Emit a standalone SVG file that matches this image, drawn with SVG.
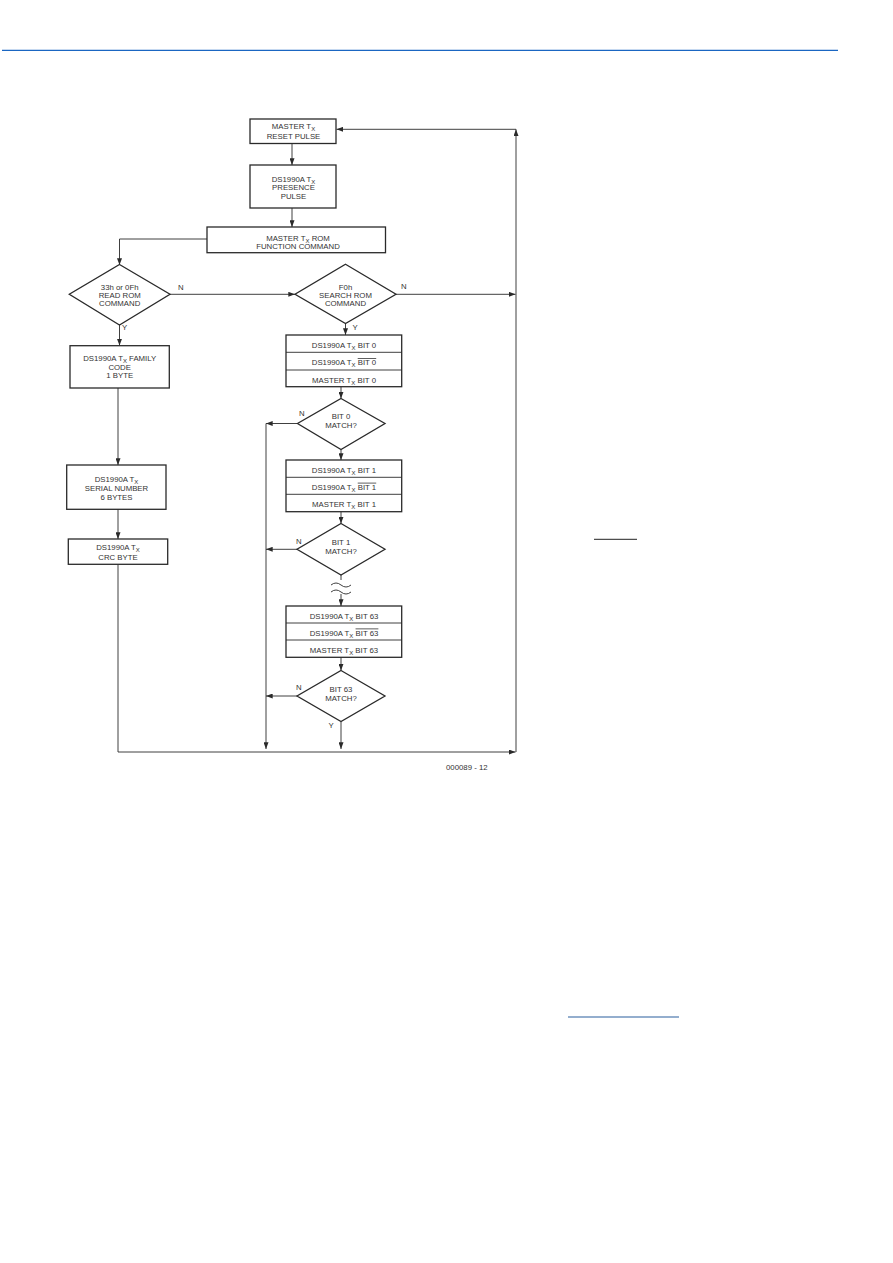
<svg xmlns="http://www.w3.org/2000/svg" width="893" height="1263" viewBox="0 0 893 1263">
<style>
text{font-family:"Liberation Sans",Arial,sans-serif;font-size:7.8px;fill:#333;text-anchor:middle}
.sub{font-size:6px}
.box{fill:#fff;stroke:#2a2a2a;stroke-width:1.3}
.ln{fill:none;stroke:#2a2a2a;stroke-width:0.9}
.lbl{text-anchor:start}
</style>
<defs>
<marker id="arr" viewBox="0 0 8 6" refX="8" refY="3" markerWidth="7" markerHeight="5" markerUnits="userSpaceOnUse" orient="auto">
<path d="M0,0 L8,3 L0,6 z" fill="#2a2a2a"/>
</marker>
</defs>
<rect width="893" height="1263" fill="#fff"/>
<line x1="2" y1="50.3" x2="838" y2="50.3" stroke="#1a66c2" stroke-width="1.3"/>
<line x1="594" y1="539.3" x2="637" y2="539.3" stroke="#222" stroke-width="1"/>
<line x1="568" y1="1017" x2="679" y2="1017" stroke="#2b5f9e" stroke-width="1.2"/>

<g id="connectors">
<path class="ln" d="M292,143 V165" marker-end="url(#arr)"/>
<path class="ln" d="M292,208 V227" marker-end="url(#arr)"/>
<path class="ln" d="M207,239 H119.5 V265" marker-end="url(#arr)"/>
<path class="ln" d="M170,294.3 H295" marker-end="url(#arr)"/>
<path class="ln" d="M119.5,325 V345.5" marker-end="url(#arr)"/>
<path class="ln" d="M118,388 V465" marker-end="url(#arr)"/>
<path class="ln" d="M118,509 V539" marker-end="url(#arr)"/>
<path class="ln" d="M118,564.5 V752 H515.5" marker-end="url(#arr)" stroke="#555"/>
<path class="ln" d="M396,294.3 H515.5" marker-end="url(#arr)"/>
<path class="ln" d="M516,752 V129.3" marker-end="url(#arr)"/>
<path class="ln" d="M516,129.3 H336.5" marker-end="url(#arr)"/>
<path class="ln" d="M345.5,323.5 V335" marker-end="url(#arr)"/>
<path class="ln" d="M341,387 V398.5" marker-end="url(#arr)"/>
<path class="ln" d="M297.5,423.5 H266" marker-end="url(#arr)"/>
<path class="ln" d="M266,423.5 V749" marker-end="url(#arr)"/>
<path class="ln" d="M341,449.5 V460" marker-end="url(#arr)"/>
<path class="ln" d="M341,512 V523.5" marker-end="url(#arr)"/>
<path class="ln" d="M297,549.3 H266" marker-end="url(#arr)"/>
<path class="ln" d="M341,575 V580"/>
<path class="ln" d="M331,585 q5,-4 10,0 t10,0"/>
<path class="ln" d="M331,592 q5,-4 10,0 t10,0"/>
<path class="ln" d="M341,594 V606" marker-end="url(#arr)"/>
<path class="ln" d="M341,657 V670.5" marker-end="url(#arr)"/>
<path class="ln" d="M297,696 H266" marker-end="url(#arr)"/>
<path class="ln" d="M341,721.5 V749" marker-end="url(#arr)"/>
<text class="lbl" x="178" y="289.5">N</text>
<text class="lbl" x="122" y="329.5">Y</text>
<text class="lbl" x="401" y="289">N</text>
<text class="lbl" x="352.5" y="329.5">Y</text>
<text class="lbl" x="299" y="416">N</text>
<text class="lbl" x="296" y="544">N</text>
<text class="lbl" x="296" y="689.5">N</text>
<text class="lbl" x="328.5" y="728">Y</text>
</g>

<g id="master-reset">
<rect class="box" x="250" y="119" width="86" height="24.5"/>
<text x="293.5" y="129.3">MASTER T<tspan class="sub" dy="2">X</tspan></text>
<text x="293.5" y="138.8">RESET PULSE</text>
</g>

<g id="presence">
<rect class="box" x="250" y="165" width="86" height="43"/>
<text x="293.5" y="181.7">DS1990A T<tspan class="sub" dy="2">X</tspan></text>
<text x="293.5" y="190.2">PRESENCE</text>
<text x="293.5" y="198.5">PULSE</text>
</g>

<g id="rom-function">
<rect class="box" x="207" y="227" width="178.5" height="25.7"/>
<text x="298" y="240.5">MASTER T<tspan class="sub" dy="2">X</tspan><tspan dy="-2"> ROM</tspan></text>
<text x="298" y="248.8">FUNCTION COMMAND</text>
</g>

<g id="read-rom">
<polygon class="box" points="119.5,264.5 170,294.3 119.5,325 69.3,294.3"/>
<text x="119.7" y="290">33h or 0Fh</text>
<text x="119.7" y="298">READ ROM</text>
<text x="119.7" y="306">COMMAND</text>
</g>

<g id="family-code">
<rect class="box" x="70" y="345.7" width="99.3" height="42.3"/>
<text x="119.7" y="361">DS1990A T<tspan class="sub" dy="2">X</tspan><tspan dy="-2"> FAMILY</tspan></text>
<text x="119.7" y="369.5">CODE</text>
<text x="119.7" y="378">1 BYTE</text>
</g>

<g id="serial-number">
<rect class="box" x="66.7" y="465" width="99.3" height="44.3"/>
<text x="116.5" y="481.7">DS1990A T<tspan class="sub" dy="2">X</tspan></text>
<text x="116.5" y="490.7">SERIAL NUMBER</text>
<text x="116.5" y="500">6 BYTES</text>
</g>

<g id="crc-byte">
<rect class="box" x="68.3" y="539" width="99.4" height="25.3"/>
<text x="118" y="550">DS1990A T<tspan class="sub" dy="2">X</tspan></text>
<text x="118" y="559.5">CRC BYTE</text>
</g>

<g id="search-rom">
<polygon class="box" points="345.5,264.3 396,294.3 345.5,323.5 295,294.3"/>
<text x="345.5" y="290">F0h</text>
<text x="345.5" y="298">SEARCH ROM</text>
<text x="345.5" y="306">COMMAND</text>
</g>

<g id="bit0-stack">
<rect class="box" x="286" y="335" width="115.7" height="51.7"/>
<line class="ln" x1="286" y1="352.3" x2="401.7" y2="352.3" stroke-width="1.2"/>
<line class="ln" x1="286" y1="370" x2="401.7" y2="370" stroke-width="1.2"/>
<text x="344" y="347.5">DS1990A T<tspan class="sub" dy="2">X</tspan><tspan dy="-2"> BIT 0</tspan></text>
<text x="344" y="365">DS1990A T<tspan class="sub" dy="2">X</tspan><tspan dy="-2"> </tspan><tspan text-decoration="overline">BIT 0</tspan></text>
<text x="344" y="382.5">MASTER T<tspan class="sub" dy="2">X</tspan><tspan dy="-2"> BIT 0</tspan></text>
</g>

<g id="bit0-match">
<polygon class="box" points="341,398.5 385,423.5 341,449.5 297.5,423.5"/>
<text x="341" y="418.5">BIT 0</text>
<text x="341" y="427.5">MATCH?</text>
</g>

<g id="bit1-stack">
<rect class="box" x="286" y="460" width="115.7" height="51.7"/>
<line class="ln" x1="286" y1="477.3" x2="401.7" y2="477.3" stroke-width="1.2"/>
<line class="ln" x1="286" y1="494.3" x2="401.7" y2="494.3" stroke-width="1.2"/>
<text x="344" y="472.5">DS1990A T<tspan class="sub" dy="2">X</tspan><tspan dy="-2"> BIT 1</tspan></text>
<text x="344" y="489.7">DS1990A T<tspan class="sub" dy="2">X</tspan><tspan dy="-2"> </tspan><tspan text-decoration="overline">BIT 1</tspan></text>
<text x="344" y="507">MASTER T<tspan class="sub" dy="2">X</tspan><tspan dy="-2"> BIT 1</tspan></text>
</g>

<g id="bit1-match">
<polygon class="box" points="341,523.5 385,549.3 341,575 297,549.3"/>
<text x="341" y="544.5">BIT 1</text>
<text x="341" y="553.5">MATCH?</text>
</g>

<g id="bit63-stack">
<rect class="box" x="286" y="606" width="115.7" height="51.3"/>
<line class="ln" x1="286" y1="623" x2="401.7" y2="623" stroke-width="1.2"/>
<line class="ln" x1="286" y1="640" x2="401.7" y2="640" stroke-width="1.2"/>
<text x="344" y="618.5">DS1990A T<tspan class="sub" dy="2">X</tspan><tspan dy="-2"> BIT 63</tspan></text>
<text x="344" y="635.5">DS1990A T<tspan class="sub" dy="2">X</tspan><tspan dy="-2"> </tspan><tspan text-decoration="overline">BIT 63</tspan></text>
<text x="344" y="652.5">MASTER T<tspan class="sub" dy="2">X</tspan><tspan dy="-2"> BIT 63</tspan></text>
</g>

<g id="bit63-match">
<polygon class="box" points="341,670.5 385,696 341,721.5 297,696"/>
<text x="341" y="691.5">BIT 63</text>
<text x="341" y="700.5">MATCH?</text>
</g>

<g id="figure-number">
<text class="lbl" x="446" y="769.5">000089 - 12</text>
</g>
</svg>
